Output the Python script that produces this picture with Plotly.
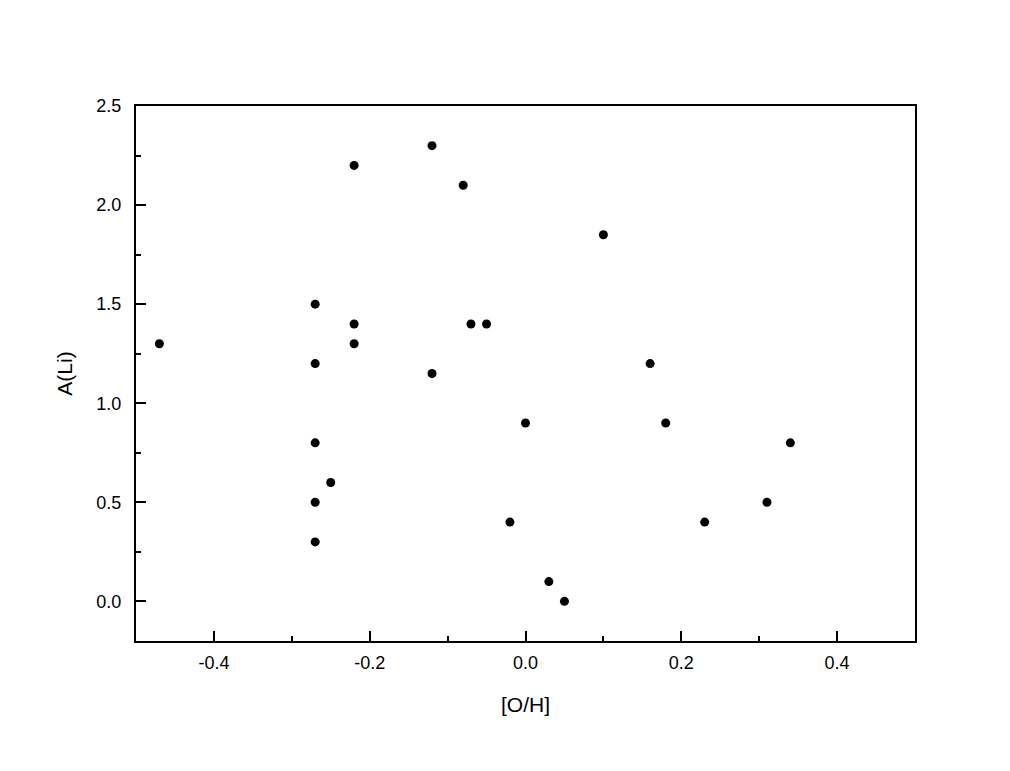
import plotly.graph_objects as go

oh = [-0.47, -0.27, -0.27, -0.27, -0.27, -0.27, -0.25, -0.22, -0.22, -0.22,
      -0.12, -0.12, -0.08, -0.07, -0.05, 0.00, -0.02, 0.03, 0.05, 0.10,
      0.16, 0.18, 0.23, 0.31, 0.34]
ali = [1.30, 1.50, 1.20, 0.80, 0.50, 0.30, 0.60, 2.20, 1.40, 1.30,
       2.30, 1.15, 2.10, 1.40, 1.40, 0.90, 0.40, 0.10, 0.00, 1.85,
       1.20, 0.90, 0.40, 0.50, 0.80]

x_tickvals = [-0.4, -0.2, 0.0, 0.2, 0.4]
x_ticktext = ["-0.4", "-0.2", "0.0", "0.2", "0.4"]
y_tickvals = [0.0, 0.5, 1.0, 1.5, 2.0, 2.5]
y_ticktext = ["0.0", "0.5", "1.0", "1.5", "2.0", "2.5"]

FONT = "Liberation Sans, Arial"

fig = go.Figure()
fig.add_trace(go.Scatter(x=oh, y=ali, mode="markers",
                         marker=dict(color="black", size=9),
                         showlegend=False))

axis_common = dict(showline=True, linecolor="black", linewidth=2, mirror=True,
                   ticks="inside", ticklen=10, tickwidth=2, tickcolor="black",
                   showgrid=False, zeroline=False,
                   tickfont=dict(family=FONT, size=18, color="black"),
                   title_font=dict(family=FONT, size=21, color="black"))

fig.update_xaxes(range=[-0.5, 0.5], tickvals=x_tickvals, ticktext=x_ticktext,
                 minor=dict(ticks="inside", ticklen=5, tickwidth=2, tickcolor="black", dtick=0.1, tick0=0),
                 title_text="[O/H]", title_standoff=26, ticklabelstandoff=4, **axis_common)
fig.update_yaxes(range=[-0.2, 2.5], tickvals=y_tickvals, ticktext=y_ticktext,
                 minor=dict(ticks="inside", ticklen=5, tickwidth=2, tickcolor="black", dtick=0.25, tick0=0),
                 title_text="A(Li)", title_standoff=18, ticklabelstandoff=9, **axis_common)

fig.update_layout(width=1010, height=771, plot_bgcolor="white", paper_bgcolor="white",
                  margin=dict(l=128, r=103, t=98, b=138),
                  font=dict(family=FONT, color="black"))

fig.write_html("out.html")
